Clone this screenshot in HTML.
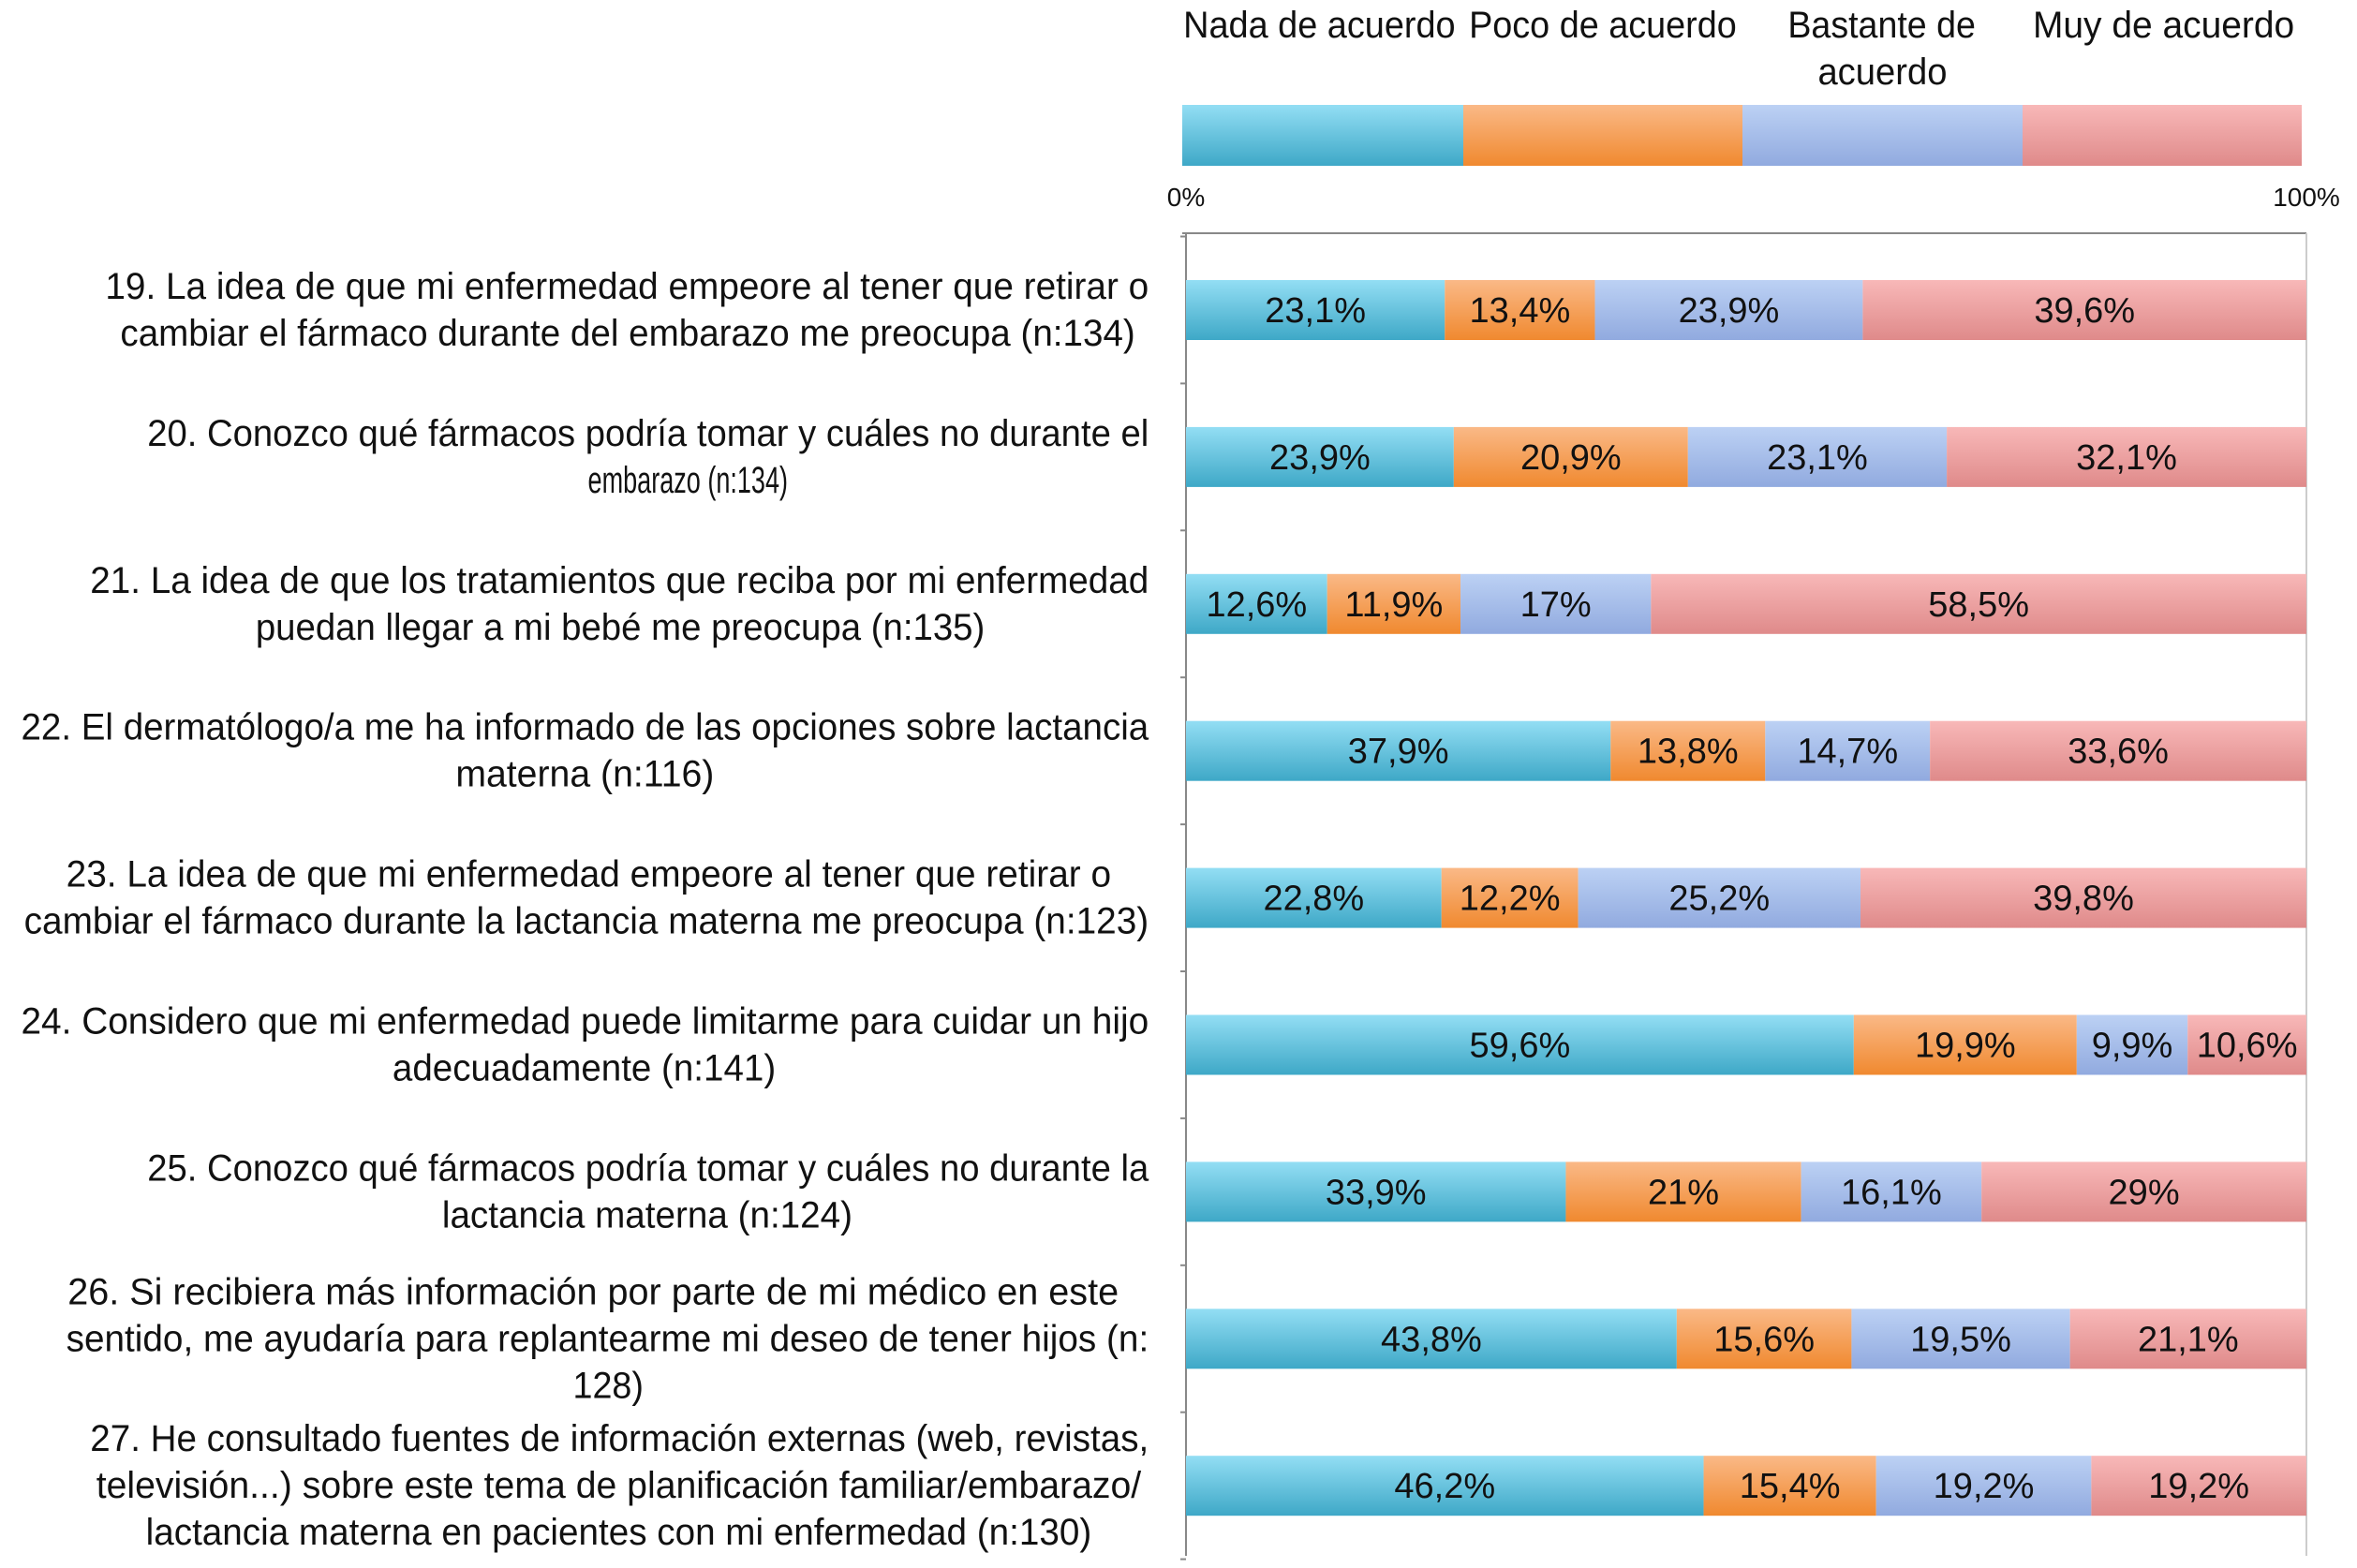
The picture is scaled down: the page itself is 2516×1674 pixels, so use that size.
<!DOCTYPE html>
<html><head><meta charset="utf-8"><style>
html,body{margin:0;padding:0;background:#fff;}
svg{display:block;font-family:"Liberation Sans Narrow","Liberation Sans",sans-serif;}
</style></head><body>
<svg id="chart" width="2516" height="1674" viewBox="0 0 2516 1674" xmlns="http://www.w3.org/2000/svg">
<defs>
<linearGradient id="g0" x1="0" y1="0" x2="0" y2="1"><stop offset="0" stop-color="#93def4"/><stop offset="1" stop-color="#3ea8c7"/></linearGradient>
<linearGradient id="g1" x1="0" y1="0" x2="0" y2="1"><stop offset="0" stop-color="#fab987"/><stop offset="1" stop-color="#f0892f"/></linearGradient>
<linearGradient id="g2" x1="0" y1="0" x2="0" y2="1"><stop offset="0" stop-color="#bcd1f4"/><stop offset="1" stop-color="#91aadf"/></linearGradient>
<linearGradient id="g3" x1="0" y1="0" x2="0" y2="1"><stop offset="0" stop-color="#f8b8b8"/><stop offset="1" stop-color="#df8a8a"/></linearGradient>
</defs>
<g id="legend"></g>
<g id="axis"></g>
<g id="labels"></g>
<g id="bars"></g>
</svg>
<script>
const seriesNames = ["Nada de acuerdo","Poco de acuerdo","Bastante de acuerdo","Muy de acuerdo"];
const nada     = [23.1, 23.9, 12.6, 37.9, 22.8, 59.6, 33.9, 43.8, 46.2];
const poco     = [13.4, 20.9, 11.9, 13.8, 12.2, 19.9, 21.0, 15.6, 15.4];
const bastante = [23.9, 23.1, 17.0, 14.7, 25.2,  9.9, 16.1, 19.5, 19.2];
const muy      = [39.6, 32.1, 58.5, 33.6, 39.8, 10.6, 29.0, 21.1, 19.2];
const valueLabels = [
 ["23,1%","13,4%","23,9%","39,6%"],["23,9%","20,9%","23,1%","32,1%"],["12,6%","11,9%","17%","58,5%"],
 ["37,9%","13,8%","14,7%","33,6%"],["22,8%","12,2%","25,2%","39,8%"],["59,6%","19,9%","9,9%","10,6%"],
 ["33,9%","21%","16,1%","29%"],["43,8%","15,6%","19,5%","21,1%"],["46,2%","15,4%","19,2%","19,2%"]];
const categories = [
 ["19. La idea de que mi enfermedad empeore al tener que retirar o","cambiar el fármaco durante del embarazo me preocupa (n:134)"],
 ["20. Conozco qué fármacos podría tomar y cuáles no durante el","embarazo (n:134)"],
 ["21. La idea de que los tratamientos que reciba por mi enfermedad","puedan llegar a mi bebé me preocupa (n:135)"],
 ["22. El dermatólogo/a me ha informado de las opciones sobre lactancia","materna (n:116)"],
 ["23. La idea de que mi enfermedad empeore al tener que retirar o","cambiar el fármaco durante la lactancia materna me preocupa (n:123)"],
 ["24. Considero que mi enfermedad puede limitarme para cuidar un hijo","adecuadamente (n:141)"],
 ["25. Conozco qué fármacos podría tomar y cuáles no durante la","lactancia materna (n:124)"],
 ["26. Si recibiera más información por parte de mi médico en este","sentido, me ayudaría para replantearme mi deseo de tener hijos (n:","128)"],
 ["27. He consultado fuentes de información externas (web, revistas,","televisión...) sobre este tema de planificación familiar/embarazo/","lactancia materna en pacientes con mi enfermedad (n:130)"]];
const tickLabels = ["0%","100%"];

const NS="http://www.w3.org/2000/svg";
const S=1.605;
const lineSpans=[[[70,764],[80,755]],[[98,764],[391,524]],[[60,764],[170,655]],[[14,764],[303,475]],[[44,739],[16,764]],[[14,764],[261,516]],[[98,764],[294,567]],[[45,744],[44,764],[381,428]],[[60,764],[64,759],[97,726]]];
const X0=1266,X1=2462;
function xs(v){return X0+v/100*(X1-X0);}
function yc(i){return 331+i*156.9;}
function mk(tag,attrs,parent){const e=document.createElementNS(NS,tag);for(const k in attrs)e.setAttribute(k,attrs[k]);parent.appendChild(e);return e;}

const legend=document.getElementById('legend');
const legX=[1262,1562,1860,2159,2457];
const legLines=[["Nada de acuerdo"],["Poco de acuerdo"],["Bastante de","acuerdo"],["Muy de acuerdo"]];
const legSpans=[[[787,968]],[[977,1155]],[[1189,1314],[1209,1295]],[[1352,1526]]];
for(let s=0;s<4;s++){
  const r=mk('rect',{x:legX[s],y:112,width:legX[s+1]-legX[s],height:65,fill:`url(#g${s})`},legend);
  
  
  legLines[s].forEach((ln,j)=>{
    const sp=legSpans[s][j];
    const t=mk('text',{x:sp[0]*S,y:40+j*50,'font-size':40,fill:'#111',textLength:(sp[1]-sp[0])*S,lengthAdjust:'spacingAndGlyphs'},legend);
    t.textContent=ln;
    
    
  });
}

const axis=document.getElementById('axis');
mk('line',{x1:X0-4,y1:249,x2:X1,y2:249,stroke:'#888','stroke-width':2},axis);
mk('line',{x1:X0,y1:249,x2:X0,y2:1661,stroke:'#888','stroke-width':2},axis);
mk('line',{x1:X1,y1:249,x2:X1,y2:1661,stroke:'#ccc','stroke-width':2},axis);
for(let i=0;i<=categories.length;i++){
  const y=yc(i)-78.5;
  mk('line',{x1:X0-6,y1:y,x2:X0,y2:y,stroke:'#888','stroke-width':2},axis);
}
tickLabels.forEach((tl,i)=>{
  const t=mk('text',{x:xs(i*100),y:220,'text-anchor':'middle','font-size':28,fill:'#111'},axis);
  t.textContent=tl;
  
  
});

const labels=document.getElementById('labels');
categories.forEach((lines,i)=>{
  const n=lines.length, c=yc(i)*1;
  lines.forEach((ln,j)=>{
    const sp=lineSpans[i][j];
    const y=c+(j-(n-1)/2)*50+13;
    const t=mk('text',{x:sp[0]*S,y:y,'font-size':40,fill:'#111',textLength:(sp[1]-sp[0])*S,lengthAdjust:'spacingAndGlyphs'},labels);
    t.textContent=ln;
    
    
  });
});

const bars=document.getElementById('bars');
const series=[nada,poco,bastante,muy];
for(let i=0;i<categories.length;i++){
  let acc=0;
  for(let s=0;s<4;s++){
    const v=series[s][i];
    const x=xs(acc), w=xs(acc+v)-x;
    const r=mk('rect',{x:x,y:yc(i)-32,width:w,height:64,fill:`url(#g${s})`},bars);
    
    
    const t=mk('text',{x:x+w/2,y:yc(i)+13,'text-anchor':'middle','font-size':38,fill:'#111'},bars);
    t.textContent=valueLabels[i][s];
    
    
    acc+=v;
  }
}
</script>
</body></html>
